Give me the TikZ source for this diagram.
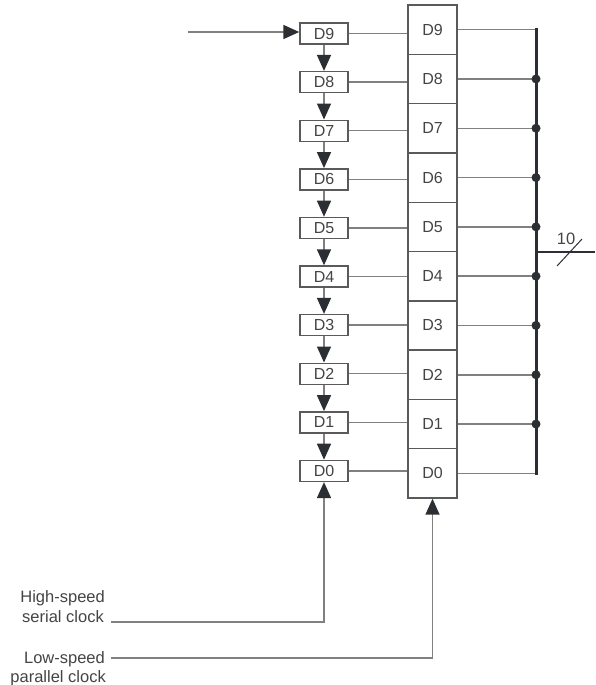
\documentclass[tikz,border=0pt]{standalone}
\usepackage{fontspec}
\setmainfont{Liberation Sans}
\usetikzlibrary{arrows.meta,calc}
\definecolor{linec}{HTML}{808080}
\definecolor{boxc}{HTML}{5A5A5A}
\definecolor{darkc}{HTML}{2B2E33}
\definecolor{textc}{HTML}{444444}
\tikzset{
  sbox/.style={draw=boxc, line width=1.4pt, minimum width=48pt, minimum height=21pt, inner sep=0pt, font=\fontsize{16}{18}\selectfont, text=textc},
  lbox/.style={draw=boxc, line width=1.4pt, minimum width=49pt, minimum height=49.3pt, inner sep=0pt, font=\fontsize{16}{18}\selectfont, text=textc},
  wire/.style={draw=linec, line width=1.5pt},
  arr/.style={wire, -{Triangle[length=16pt,width=14pt,color=darkc]}},
  bus/.style={draw=darkc, line width=3pt},
  lbl/.style={font=\fontsize{16.5}{20}\selectfont, text=textc, inner sep=0pt},
  jdot/.style={circle, fill=darkc, minimum size=9pt, inner sep=0pt}
}
\begin{document}
\begin{tikzpicture}[x=1pt,y=-1pt]
\useasboundingbox (0,0) rectangle (595,685);
% small shift-register boxes and large parallel register
\foreach \i in {0,...,9} {
  \pgfmathsetmacro{\ys}{33.5+48.6*(9-\i)}
  \pgfmathsetmacro{\yl}{29.65+49.3*(9-\i)}
  \node[sbox] (s\i) at (324,\ys) {D\i};
  \node[lbox] (l\i) at (432.5,\yl) {D\i};
  \draw[wire] (s\i.east) -- (s\i.east -| l\i.west);
  \coordinate (b\i) at (536,\yl);
  \draw[wire] (l\i.east |- b\i) -- (b\i);
}
% vertical shift arrows
\foreach \i [evaluate=\i as \j using int(\i-1)] in {9,...,1} {
  \draw[arr] (s\i.south) -- (s\j.north);
}
% bus
\draw[bus, line cap=butt] ($(b9)+(0,-1.5)$) -- ($(b0)+(0,1.5)$);
\foreach \i in {1,...,8} { \node[jdot] (d\i) at (b\i) {}; }
% output
\coordinate (bo) at (536,252);
\coordinate (out) at (595,252);
\draw[draw=darkc, line width=2.5pt] (bo) -- (out);
\coordinate (sl1) at (557,266);
\coordinate (sl2) at (582,239);
\draw[draw=darkc, line width=1pt] (sl1) -- (sl2);
\node[lbl, anchor=base] (ten) at (566,244) {10};
% serial input
\coordinate (in) at (188,32);
\draw[arr] (in) -- (in -| s9.west);
% clocks
\node[lbl, anchor=base east] (hs1) at (105,602) {High-speed};
\node[lbl, anchor=base east] (hs2) at (104,622) {serial clock};
\node[lbl, anchor=base east] (ls1) at (105,663) {Low-speed};
\node[lbl, anchor=base east] (ls2) at (106,682) {parallel clock};
\coordinate (c1) at (111,622);
\coordinate (c2) at (111,658);
\draw[arr] (c1) -- (c1 -| s0.south) -- (s0.south);
\draw[arr] (c2) -- (c2 -| l0.south) -- (l0.south);
\end{tikzpicture}
\end{document}
